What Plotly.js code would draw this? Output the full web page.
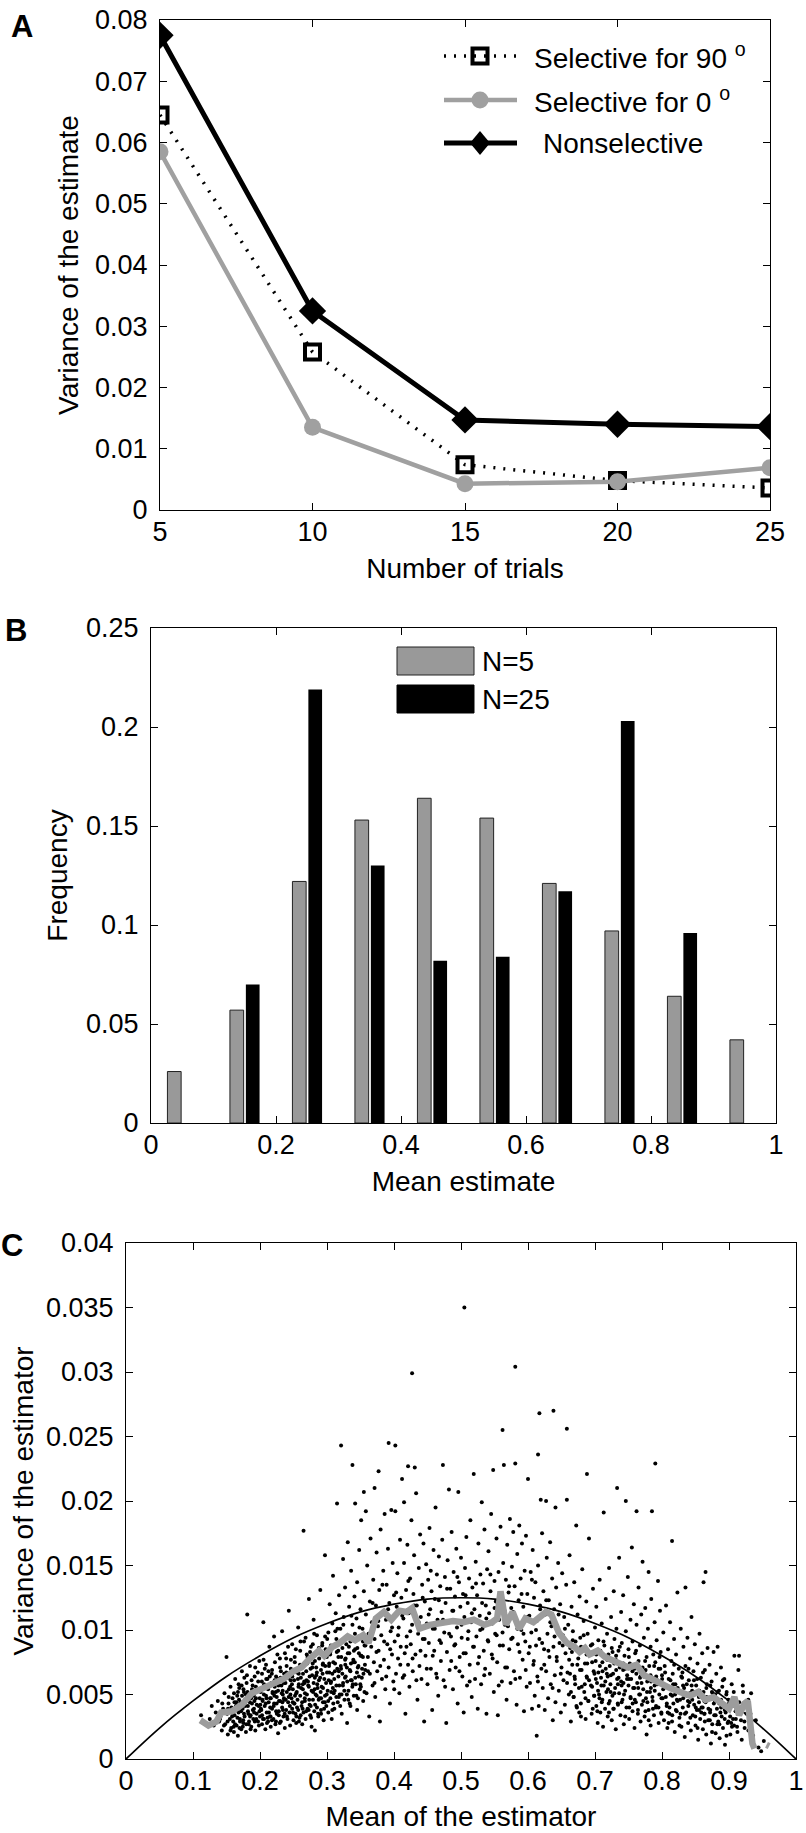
<!DOCTYPE html>
<html><head><meta charset="utf-8">
<script src="https://cdn.plot.ly/plotly-3.0.1.min.js"></script>
<style>html,body{margin:0;padding:0;background:#fff}#chart{width:806px;height:1833px}</style>
</head><body><div id="chart"></div>
<script>
// ---------- Panel A data ----------
const trialsX = [5, 10, 15, 20, 25];
const sel90   = [0.0645, 0.0258, 0.0074, 0.0048, 0.0036];
const sel0    = [0.0585, 0.0135, 0.0043, 0.0046, 0.0069];
const nonsel  = [0.0775, 0.0325, 0.0147, 0.0140, 0.0136];
const legendA = ['Selective for 90 <sup>o</sup>', 'Selective for 0 <sup>o</sup>', 'Nonselective'];

// ---------- Panel B data ----------
const binCenters = [0.05, 0.15, 0.25, 0.35, 0.45, 0.55, 0.65, 0.75, 0.85, 0.95];
const freqN5  = [0.026, 0.057, 0.122, 0.153, 0.164, 0.154, 0.121, 0.097, 0.064, 0.042];
const freqN25 = [0, 0.070, 0.219, 0.130, 0.082, 0.084, 0.117, 0.203, 0.096, 0];
const legendB = ['N=5', 'N=25'];

// ---------- Panel C data ----------
const boundX = [0, 0.05, 0.1, 0.15, 0.2, 0.25, 0.3, 0.35, 0.4, 0.45, 0.5, 0.55, 0.6, 0.65, 0.7, 0.75, 0.8, 0.85, 0.9, 0.95, 1];
const boundY = [0, 0.0024, 0.0045, 0.0064, 0.008, 0.0094, 0.0105, 0.0114, 0.012, 0.0124, 0.0125, 0.0124, 0.012, 0.0114, 0.0105, 0.0094, 0.008, 0.0064, 0.0045, 0.0024, 0];

const meanLineX = [0.111,0.123,0.135,0.142,0.158,0.173,0.188,0.204,0.219,0.235,0.250,0.262,0.273,0.281,0.288,0.296,0.308,0.319,0.331,0.342,0.354,0.362,0.373,0.385,0.396,0.408,0.419,0.427,0.438,0.454,0.469,0.488,0.504,0.519,0.535,0.546,0.554,0.559,0.567,0.577,0.587,0.596,0.608,0.615,0.627,0.635,0.646,0.658,0.669,0.677,0.685,0.692,0.704,0.715,0.727,0.738,0.750,0.762,0.773,0.785,0.796,0.812,0.827,0.842,0.854,0.865,0.877,0.888,0.900,0.908,0.915,0.923,0.928,0.935,0.938,null,0.956,0.960];
const meanLineY = [0.0030,0.0026,0.0029,0.0036,0.0037,0.0042,0.0051,0.0055,0.0059,0.0062,0.0068,0.0071,0.0077,0.0080,0.0084,0.0080,0.0087,0.0090,0.0095,0.0092,0.0096,0.0090,0.0109,0.0114,0.0108,0.0115,0.0114,0.0117,0.0101,0.0104,0.0105,0.0107,0.0106,0.0108,0.0104,0.0106,0.0109,0.0130,0.0104,0.0114,0.0101,0.0109,0.0106,0.0109,0.0114,0.0112,0.0098,0.0090,0.0087,0.0083,0.0086,0.0081,0.0084,0.0079,0.0076,0.0074,0.0071,0.0073,0.0065,0.0062,0.0059,0.0055,0.0052,0.0049,0.0052,0.0046,0.0048,0.0043,0.0039,0.0048,0.0034,0.0043,0.0045,0.0012,0.0008,null,0.0011,0.0010];

const cloudLeft = [
[0.112,0.0034],[0.118,0.0028],[0.125,0.0031],[0.128,0.0041],[0.131,0.0026],[0.134,0.0036],[0.137,0.0045],[0.139,0.0029],[0.141,0.0033],[0.143,0.0022],[0.145,0.0039],[0.147,0.0051],[0.148,0.0027],[0.150,0.0079],[0.151,0.0035],[0.152,0.0019],[0.153,0.0043],[0.155,0.0031],[0.156,0.0056],[0.157,0.0024],[0.158,0.0038],[0.159,0.0047],[0.160,0.0029],[0.161,0.0021],[0.162,0.0034],[0.163,0.0062],[0.164,0.0041],[0.165,0.0026],[0.166,0.0049],[0.167,0.0018],[0.168,0.0036],[0.169,0.0055],[0.170,0.0031],[0.171,0.0044],[0.172,0.0023],[0.173,0.0068],[0.174,0.0039],[0.175,0.0028],[0.176,0.0052],[0.177,0.0033],[0.178,0.0046],[0.179,0.0021],[0.180,0.0059],[0.181,0.0112],[0.182,0.0037],[0.183,0.0027],[0.184,0.0048],[0.185,0.0072],[0.186,0.0034],[0.187,0.0025],[0.188,0.0043],[0.189,0.0057],[0.190,0.0031],[0.191,0.0039],[0.192,0.0064],[0.193,0.0022],[0.194,0.0047],[0.195,0.0035],[0.196,0.0053],[0.197,0.0029],[0.198,0.0041],[0.199,0.0076],[0.200,0.0033],
[0.201,0.0052],[0.202,0.0038],[0.203,0.0027],[0.203,0.0066],[0.204,0.0045],[0.205,0.0106],[0.206,0.0031],[0.206,0.0058],[0.207,0.0041],[0.208,0.0023],[0.209,0.0073],[0.209,0.0049],[0.210,0.0036],[0.211,0.0062],[0.212,0.0029],[0.212,0.0054],[0.213,0.0044],[0.214,0.0087],[0.215,0.0033],[0.215,0.0047],[0.216,0.0025],[0.217,0.0059],[0.218,0.0039],[0.218,0.0069],[0.219,0.0051],[0.220,0.0031],[0.221,0.0095],[0.221,0.0043],[0.222,0.0056],[0.223,0.0027],[0.224,0.0064],[0.224,0.0037],[0.225,0.0048],[0.226,0.0081],[0.227,0.0020],[0.227,0.0053],[0.228,0.0034],[0.229,0.0061],[0.230,0.0045],[0.230,0.0071],[0.231,0.0029],[0.232,0.0057],[0.233,0.0040],[0.233,0.0099],[0.234,0.0050],[0.235,0.0033],[0.236,0.0066],[0.236,0.0046],[0.237,0.0024],[0.238,0.0059],[0.239,0.0038],[0.239,0.0078],[0.240,0.0052],[0.241,0.0031],[0.242,0.0063],[0.242,0.0044],[0.243,0.0115],[0.244,0.0036],[0.245,0.0056],[0.245,0.0026],[0.246,0.0070],[0.247,0.0047],[0.248,0.0039],[0.248,0.0089],[0.249,0.0054],[0.250,0.0030],[0.251,0.0061],[0.251,0.0043],[0.252,0.0075],[0.253,0.0035],[0.254,0.0051],[0.254,0.0028],[0.255,0.0067],[0.256,0.0046],[0.257,0.0102],[0.257,0.0038],[0.258,0.0058],[0.259,0.0032],[0.260,0.0084],[0.260,0.0049],[0.261,0.0063],[0.262,0.0041],[0.263,0.0027],[0.263,0.0072],[0.264,0.0054],[0.265,0.0177],[0.265,0.0036],[0.266,0.0060],[0.267,0.0045],[0.268,0.0094],[0.268,0.0031],[0.269,0.0068],[0.270,0.0050],[0.271,0.0039],[0.271,0.0079],[0.272,0.0057],[0.273,0.0124],[0.274,0.0042],[0.274,0.0064],[0.275,0.0034],[0.276,0.0087],[0.277,0.0053],[0.277,0.0025],[0.278,0.0071],[0.279,0.0046],[0.280,0.0108],[0.280,0.0059],[0.281,0.0037],[0.282,0.0022],[0.282,0.0076],[0.283,0.0050],[0.284,0.0065],[0.285,0.0040],[0.285,0.0096],[0.286,0.0055],[0.287,0.0033],[0.288,0.0082],[0.288,0.0061],[0.289,0.0047],[0.290,0.0131],[0.291,0.0069],[0.291,0.0038],[0.292,0.0056],[0.293,0.0090],[0.294,0.0044],[0.294,0.0074],[0.295,0.0030],[0.296,0.0062],[0.297,0.0158],[0.297,0.0049],[0.298,0.0085],[0.299,0.0041],[0.300,0.0067]
];

const cloudMidLeft = [
[0.301,0.0053],[0.302,0.0098],[0.302,0.0036],[0.303,0.0072],[0.304,0.0120],[0.305,0.0047],[0.305,0.0083],[0.306,0.0060],[0.307,0.0031],[0.308,0.0105],[0.308,0.0066],[0.309,0.0142],[0.310,0.0051],[0.311,0.0088],[0.311,0.0039],[0.312,0.0074],[0.313,0.0113],[0.314,0.0057],[0.314,0.0093],[0.315,0.0198],[0.316,0.0044],[0.317,0.0079],[0.317,0.0064],[0.318,0.0127],[0.319,0.0050],[0.320,0.0101],[0.321,0.0243],[0.321,0.0070],[0.322,0.0035],[0.323,0.0086],[0.324,0.0155],[0.324,0.0059],[0.325,0.0110],[0.326,0.0046],[0.327,0.0077],[0.327,0.0133],[0.328,0.0064],[0.329,0.0095],[0.330,0.0028],[0.331,0.0168],[0.331,0.0082],[0.332,0.0053],[0.333,0.0118],[0.334,0.0069],[0.335,0.0041],[0.335,0.0091],[0.336,0.0146],[0.337,0.0061],[0.338,0.0228],[0.338,0.0104],[0.339,0.0075],[0.340,0.0049],[0.341,0.0126],[0.342,0.0198],[0.342,0.0085],[0.343,0.0058],[0.344,0.0109],[0.345,0.0038],[0.345,0.0137],[0.346,0.0071],[0.347,0.0095],[0.348,0.0162],[0.349,0.0054],[0.350,0.0116],[0.350,0.0080],[0.351,0.0185],[0.352,0.0063],[0.353,0.0101],[0.354,0.0045],[0.355,0.0207],[0.355,0.0130],[0.356,0.0088],[0.357,0.0069],[0.358,0.0192],[0.358,0.0112],[0.359,0.0051],[0.360,0.0150],[0.361,0.0079],[0.362,0.0097],[0.363,0.0033],[0.364,0.0122],[0.364,0.0066],[0.365,0.0171],[0.366,0.0087],[0.367,0.0106],[0.368,0.0057],[0.369,0.0139],[0.370,0.0075],[0.371,0.0210],[0.371,0.0093],[0.372,0.0048],[0.373,0.0119],[0.374,0.0160],[0.375,0.0068],[0.376,0.0103],[0.377,0.0223],[0.377,0.0084],[0.378,0.0131],[0.379,0.0029],[0.380,0.0178],[0.381,0.0096],[0.382,0.0062],[0.383,0.0113],[0.384,0.0146],[0.385,0.0077],[0.386,0.0190],[0.387,0.0054],[0.388,0.0108],[0.389,0.0135],[0.390,0.0089],[0.391,0.0163],[0.392,0.0245],[0.392,0.0071],[0.393,0.0121],[0.394,0.0043],[0.395,0.0099],[0.396,0.0193],[0.397,0.0081],[0.398,0.0152],[0.399,0.0060],[0.400,0.0127],
[0.401,0.0091],[0.402,0.0243],[0.402,0.0192],[0.403,0.0066],[0.404,0.0118],[0.405,0.0144],[0.406,0.0078],[0.407,0.0102],[0.408,0.0051],[0.409,0.0170],[0.410,0.0087],[0.411,0.0125],[0.412,0.0217],[0.413,0.0063],[0.414,0.0109],[0.415,0.0199],[0.415,0.0152],[0.416,0.0082],[0.417,0.0035],[0.418,0.0131],[0.419,0.0095],[0.420,0.0166],[0.421,0.0227],[0.421,0.0073],[0.422,0.0113],[0.423,0.0056],[0.424,0.0140],[0.425,0.0089],[0.426,0.0185],[0.427,0.0299],[0.427,0.0104],[0.428,0.0068],[0.429,0.0128],[0.430,0.0158],[0.431,0.0226],[0.432,0.0081],[0.433,0.0206],[0.434,0.0119],[0.435,0.0046],[0.436,0.0097],[0.437,0.0148],[0.438,0.0072],[0.439,0.0174],[0.440,0.0110],[0.441,0.0062],[0.442,0.0135],[0.443,0.0093],[0.444,0.0167],[0.445,0.0029],[0.446,0.0122],[0.447,0.0080],[0.448,0.0151],[0.449,0.0105],[0.450,0.0058],[0.451,0.0139],[0.452,0.0090],[0.453,0.0179],[0.454,0.0116],[0.455,0.0070],[0.456,0.0130],[0.457,0.0038],[0.458,0.0101],[0.459,0.0162],[0.460,0.0084],[0.461,0.0124],[0.462,0.0195],[0.463,0.0066],[0.464,0.0143],[0.465,0.0108],[0.466,0.0049],[0.467,0.0157],[0.468,0.0092],[0.469,0.0134],[0.470,0.0076],[0.471,0.0114],[0.472,0.0170],[0.473,0.0228],[0.474,0.0061],[0.475,0.0098],[0.476,0.0141],[0.477,0.0121],[0.478,0.0028],[0.479,0.0083],[0.480,0.0154],[0.481,0.0107],[0.482,0.0209],[0.483,0.0069],[0.484,0.0132],[0.485,0.0095],[0.486,0.0176],[0.487,0.0115],[0.488,0.0054],[0.489,0.0145],[0.490,0.0088],[0.491,0.0126],[0.492,0.0071],[0.493,0.0163],[0.494,0.0102],[0.495,0.0043],[0.496,0.0207],[0.497,0.0137],[0.498,0.0079],[0.499,0.0118],[0.500,0.0156]
];

const cloudMidRight = [
[0.501,0.0094],[0.502,0.0064],[0.503,0.0128],[0.504,0.0036],[0.505,0.0350],[0.505,0.0110],[0.506,0.0148],[0.507,0.0082],[0.508,0.0172],[0.509,0.0057],[0.510,0.0121],[0.511,0.0099],[0.512,0.0140],[0.513,0.0073],[0.514,0.0185],[0.515,0.0106],[0.516,0.0048],[0.517,0.0133],[0.518,0.0087],[0.519,0.0221],[0.520,0.0116],[0.521,0.0062],[0.522,0.0153],[0.523,0.0095],[0.524,0.0127],[0.525,0.0039],[0.526,0.0167],[0.527,0.0079],[0.528,0.0111],[0.529,0.0143],[0.530,0.0058],[0.531,0.0199],[0.532,0.0101],[0.533,0.0136],[0.534,0.0084],[0.535,0.0178],[0.536,0.0070],[0.537,0.0119],[0.538,0.0035],[0.539,0.0147],[0.540,0.0092],[0.541,0.0161],[0.542,0.0113],[0.543,0.0066],[0.544,0.0130],[0.545,0.0190],[0.546,0.0081],[0.547,0.0105],[0.548,0.0224],[0.549,0.0052],[0.550,0.0138],[0.551,0.0097],[0.552,0.0122],[0.553,0.0171],[0.554,0.0075],[0.555,0.0034],[0.556,0.0145],[0.557,0.0108],[0.558,0.0088],[0.559,0.0180],[0.560,0.0126],[0.561,0.0060],[0.562,0.0255],[0.562,0.0098],[0.563,0.0152],[0.564,0.0228],[0.565,0.0115],[0.566,0.0071],[0.567,0.0139],[0.568,0.0046],[0.569,0.0166],[0.570,0.0103],[0.571,0.0129],[0.572,0.0085],[0.573,0.0186],[0.574,0.0059],[0.575,0.0117],[0.576,0.0149],[0.577,0.0094],[0.578,0.0176],[0.579,0.0068],[0.580,0.0134],[0.581,0.0304],[0.581,0.0229],[0.582,0.0107],[0.583,0.0042],[0.584,0.0159],[0.585,0.0089],[0.586,0.0123],[0.587,0.0181],[0.588,0.0063],[0.589,0.0140],[0.590,0.0100],[0.591,0.0167],[0.592,0.0077],[0.593,0.0118],[0.594,0.0037],[0.595,0.0146],[0.596,0.0091],[0.597,0.0173],[0.598,0.0056],[0.599,0.0128],[0.600,0.0217],
[0.601,0.0082],[0.602,0.0111],[0.603,0.0059],[0.604,0.0145],[0.605,0.0098],[0.606,0.0039],[0.607,0.0162],[0.608,0.0073],[0.609,0.0125],[0.610,0.0049],[0.611,0.0137],[0.612,0.0088],[0.613,0.0018],[0.613,0.0107],[0.614,0.0064],[0.615,0.0236],[0.615,0.0150],[0.616,0.0041],[0.617,0.0268],[0.617,0.0093],[0.618,0.0119],[0.619,0.0201],[0.620,0.0070],[0.621,0.0175],[0.622,0.0055],[0.623,0.0130],[0.624,0.0085],[0.625,0.0038],[0.626,0.0112],[0.627,0.0200],[0.627,0.0068],[0.628,0.0156],[0.629,0.0097],[0.630,0.0047],[0.631,0.0123],[0.632,0.0079],[0.633,0.0168],[0.634,0.0058],[0.635,0.0103],[0.636,0.0140],[0.637,0.0030],[0.638,0.0270],[0.638,0.0087],[0.639,0.0116],[0.640,0.0065],[0.641,0.0195],[0.641,0.0044],[0.642,0.0133],[0.643,0.0076],[0.644,0.0101],[0.645,0.0152],[0.646,0.0053],[0.647,0.0090],[0.648,0.0120],[0.649,0.0036],[0.650,0.0071],[0.651,0.0144],[0.652,0.0096],[0.653,0.0061],[0.654,0.0110],[0.655,0.0042],[0.656,0.0082],[0.657,0.0135],[0.658,0.0256],[0.658,0.0201],[0.659,0.0067],[0.660,0.0104],[0.661,0.0050],[0.662,0.0158],[0.663,0.0086],[0.664,0.0029],[0.665,0.0118],[0.666,0.0073],[0.667,0.0099],[0.668,0.0048],[0.669,0.0137],[0.670,0.0062],[0.671,0.0091],[0.672,0.0181],[0.673,0.0040],[0.674,0.0112],[0.675,0.0078],[0.676,0.0055],[0.677,0.0126],[0.678,0.0094],[0.679,0.0033],[0.680,0.0069],[0.681,0.0147],[0.682,0.0085],[0.683,0.0107],[0.684,0.0052],[0.685,0.0074],[0.686,0.0031],[0.687,0.0122],[0.688,0.0221],[0.688,0.0063],[0.689,0.0097],[0.690,0.0045],[0.691,0.0171],[0.692,0.0081],[0.693,0.0110],[0.694,0.0057],[0.695,0.0035],[0.696,0.0089],[0.697,0.0132],[0.698,0.0068],[0.699,0.0049],[0.700,0.0102]
];

const cloudRight = [
[0.701,0.0076],[0.702,0.0041],[0.702,0.0118],[0.703,0.0059],[0.704,0.0028],[0.705,0.0092],[0.705,0.0067],[0.706,0.0050],[0.707,0.0139],[0.708,0.0084],[0.708,0.0036],[0.709,0.0063],[0.710,0.0105],[0.711,0.0046],[0.711,0.0075],[0.712,0.0025],[0.713,0.0191],[0.713,0.0057],[0.714,0.0088],[0.715,0.0039],[0.716,0.0070],[0.716,0.0124],[0.717,0.0052],[0.718,0.0097],[0.719,0.0033],[0.719,0.0064],[0.720,0.0081],[0.721,0.0148],[0.722,0.0045],[0.722,0.0072],[0.723,0.0058],[0.724,0.0110],[0.725,0.0030],[0.725,0.0086],[0.726,0.0049],[0.727,0.0066],[0.728,0.0130],[0.728,0.0039],[0.729,0.0093],[0.730,0.0055],[0.731,0.0077],[0.731,0.0023],[0.732,0.0101],[0.733,0.0210],[0.733,0.0062],[0.734,0.0043],[0.735,0.0084],[0.736,0.0156],[0.736,0.0051],[0.737,0.0071],[0.738,0.0034],[0.739,0.0114],[0.739,0.0060],[0.740,0.0090],[0.741,0.0046],[0.742,0.0069],[0.742,0.0127],[0.743,0.0027],[0.744,0.0080],[0.745,0.0053],[0.746,0.0200],[0.746,0.0099],[0.747,0.0040],[0.748,0.0065],[0.749,0.0141],[0.750,0.0057],[0.750,0.0085],[0.751,0.0031],[0.752,0.0074],[0.753,0.0108],[0.753,0.0048],[0.754,0.0062],[0.755,0.0164],[0.756,0.0037],[0.756,0.0091],[0.757,0.0055],[0.758,0.0120],[0.759,0.0070],[0.759,0.0024],[0.760,0.0082],[0.761,0.0044],[0.762,0.0192],[0.762,0.0104],[0.763,0.0059],[0.764,0.0035],[0.765,0.0076],[0.765,0.0133],[0.766,0.0050],[0.767,0.0088],[0.768,0.0029],[0.768,0.0064],[0.769,0.0112],[0.770,0.0042],[0.771,0.0071],[0.771,0.0153],[0.772,0.0054],[0.773,0.0094],[0.774,0.0033],[0.774,0.0068],[0.775,0.0117],[0.776,0.0047],[0.777,0.0079],[0.777,0.0019],[0.778,0.0060],[0.779,0.0101],[0.780,0.0038],[0.780,0.0145],[0.781,0.0072],[0.782,0.0052],[0.783,0.0087],[0.783,0.0026],[0.784,0.0124],[0.785,0.0192],[0.785,0.0063],[0.786,0.0045],[0.787,0.0081],[0.788,0.0034],[0.789,0.0106],[0.789,0.0057],[0.790,0.0229],[0.790,0.0075],[0.791,0.0040],[0.792,0.0092],[0.793,0.0061],[0.794,0.0138],[0.795,0.0028],[0.795,0.0070],[0.796,0.0050],[0.797,0.0115],[0.798,0.0083],[0.799,0.0036],[0.800,0.0065],
[0.801,0.0047],[0.802,0.0098],[0.803,0.0030],[0.804,0.0072],[0.805,0.0056],[0.806,0.0119],[0.807,0.0041],[0.808,0.0024],[0.809,0.0085],[0.810,0.0062],[0.811,0.0035],[0.812,0.0106],[0.813,0.0050],[0.814,0.0076],[0.815,0.0169],[0.815,0.0029],[0.816,0.0066],[0.817,0.0043],[0.818,0.0093],[0.819,0.0021],[0.820,0.0058],[0.821,0.0081],[0.822,0.0037],[0.823,0.0129],[0.824,0.0052],[0.825,0.0070],[0.826,0.0032],[0.827,0.0046],[0.828,0.0101],[0.829,0.0025],[0.830,0.0063],[0.831,0.0040],[0.832,0.0087],[0.833,0.0055],[0.834,0.0017],[0.835,0.0133],[0.835,0.0072],[0.836,0.0036],[0.837,0.0049],[0.838,0.0094],[0.839,0.0028],[0.840,0.0061],[0.841,0.0044],[0.842,0.0078],[0.843,0.0022],[0.844,0.0110],[0.845,0.0053],[0.846,0.0034],[0.847,0.0068],[0.848,0.0042],[0.849,0.0089],[0.850,0.0026],[0.851,0.0057],[0.852,0.0038],[0.853,0.0074],[0.854,0.0015],[0.855,0.0048],[0.856,0.0097],[0.857,0.0031],[0.858,0.0063],[0.859,0.0040],[0.860,0.0082],[0.861,0.0023],[0.862,0.0137],[0.862,0.0052],[0.863,0.0035],[0.864,0.0069],[0.865,0.0145],[0.865,0.0044],[0.866,0.0019],[0.867,0.0058],[0.868,0.0086],[0.869,0.0030],[0.870,0.0047],[0.871,0.0073],[0.872,0.0038],[0.873,0.0012],[0.874,0.0060],[0.875,0.0027],[0.876,0.0051],[0.877,0.0083],[0.878,0.0034],[0.879,0.0045],[0.880,0.0020],[0.881,0.0066],[0.882,0.0039],[0.883,0.0087],[0.884,0.0029],[0.885,0.0053],[0.886,0.0016],[0.887,0.0044],[0.888,0.0071],[0.889,0.0033],[0.890,0.0056],[0.891,0.0024],[0.892,0.0041],[0.893,0.0062],[0.894,0.0011],[0.895,0.0036],[0.896,0.0050],[0.898,0.0028],[0.900,0.0043],[0.902,0.0019],[0.904,0.0058],[0.906,0.0031],[0.908,0.0080],[0.910,0.0046],[0.912,0.0025],[0.914,0.0069],[0.915,0.0080],[0.917,0.0038],[0.919,0.0015],[0.921,0.0052],[0.923,0.0029],[0.926,0.0042],[0.929,0.0022],[0.932,0.0035],[0.933,0.0051],[0.936,0.0018],[0.940,0.0030],[0.944,0.0009],[0.948,0.0006],[0.952,0.0014]
];

const cloudDenseLeft = [
[0.1404,0.0031],[0.1437,0.0043],[0.1462,0.0026],[0.1488,0.0037],[0.1516,0.0029],[0.1533,0.0048],[0.1559,0.0022],[0.1574,0.0040],[0.1597,0.0034],[0.1612,0.0051],[0.1628,0.0027],[0.1646,0.0044],[0.1663,0.0032],[0.1681,0.0058],[0.1694,0.0024],[0.1717,0.0037],[0.1732,0.0049],[0.1749,0.0030],[0.1766,0.0063],[0.1778,0.0041],[0.1795,0.0027],[0.1813,0.0052],[0.1826,0.0035],[0.1847,0.0044],[0.1859,0.0023],[0.1874,0.0061],[0.1893,0.0038],[0.1907,0.0049],[0.1922,0.0029],[0.1938,0.0056],[0.1951,0.0042],[0.1967,0.0067],[0.1984,0.0026],[0.1996,0.0047],[0.2013,0.0039],[0.2027,0.0060],[0.2044,0.0031],[0.2058,0.0050],[0.2071,0.0070],[0.2086,0.0043],[0.2104,0.0028],[0.2117,0.0055],[0.2133,0.0036],[0.2146,0.0064],[0.2161,0.0047],[0.2178,0.0030],[0.2192,0.0058],[0.2205,0.0041],[0.2223,0.0075],[0.2236,0.0052],[0.2251,0.0035],[0.2267,0.0062],[0.2283,0.0045],[0.2296,0.0028],[0.2312,0.0068],[0.2325,0.0051],[0.2342,0.0038],[0.2357,0.0059],[0.2372,0.0082],[0.2384,0.0046],[0.2401,0.0033],[0.2415,0.0065],[0.2432,0.0054],[0.2446,0.0041],[0.2461,0.0077],[0.2477,0.0058],[0.2493,0.0036],[0.2506,0.0069],[0.2522,0.0049],[0.2535,0.0085],[0.2553,0.0040],[0.2566,0.0062],[0.2581,0.0029],[0.2597,0.0073],[0.2613,0.0055],[0.2628,0.0044],[0.2642,0.0066],[0.2657,0.0091],[0.2671,0.0051],[0.2688,0.0037],[0.2703,0.0074],[0.2716,0.0060],[0.2734,0.0046],[0.2747,0.0083],[0.2763,0.0032],[0.2778,0.0065],[0.2792,0.0052],[0.2808,0.0097],[0.2823,0.0042],[0.2839,0.0071],[0.2854,0.0058],[0.2867,0.0035],[0.2883,0.0078],[0.2897,0.0063],[0.2912,0.0047],[0.2928,0.0088],[0.2941,0.0055],[0.2957,0.0039],[0.2973,0.0072],[0.2986,0.0059],[0.3003,0.0093],[0.3018,0.0045],[0.3034,0.0067],[0.3047,0.0081],[0.3063,0.0052],[0.3079,0.0038],[0.3094,0.0075],[0.3108,0.0062],[0.3124,0.0099],[0.3139,0.0048],[0.3153,0.0070],[0.3168,0.0084],[0.3184,0.0057],[0.3197,0.0041],[0.3213,0.0079],[0.3229,0.0066],[0.3244,0.0104],[0.3258,0.0053],[0.3273,0.0073],[0.3289,0.0089],[0.3302,0.0060],[0.3318,0.0046],[0.3333,0.0082],[0.3349,0.0068],[0.3364,0.0111],[0.3378,0.0056],[0.3393,0.0077],[0.3409,0.0093],[0.3422,0.0063],[0.3438,0.0049],[0.3453,0.0086],[0.3469,0.0072],[0.3484,0.0102],[0.3497,0.0058],[0.3513,0.0080],[0.3528,0.0095],[0.3544,0.0066],[0.3559,0.0052],[0.3573,0.0088],
[0.1522,0.0039],[0.1608,0.0025],[0.1687,0.0046],[0.1753,0.0054],[0.1836,0.0029],[0.1912,0.0036],[0.1978,0.0053],[0.2036,0.0046],[0.2093,0.0062],[0.2152,0.0040],[0.2214,0.0049],[0.2276,0.0057],[0.2334,0.0044],[0.2393,0.0067],[0.2454,0.0050],[0.2514,0.0043],[0.2574,0.0056],[0.2636,0.0039],[0.2694,0.0061],[0.2754,0.0070],[0.2815,0.0054],[0.2876,0.0046],[0.2934,0.0066],[0.2995,0.0050],[0.3056,0.0059],[0.3115,0.0053],[0.3176,0.0068],[0.3237,0.0057],[0.3296,0.0071],[0.3356,0.0061],[0.3415,0.0075],[0.3476,0.0064],[0.3536,0.0079],
[0.1583,0.0033],[0.1619,0.0044],[0.1654,0.0038],[0.1702,0.0029],[0.1726,0.0057],[0.1761,0.0035],[0.1788,0.0050],[0.1819,0.0041],[0.1852,0.0033],[0.1881,0.0054],[0.1917,0.0045],[0.1944,0.0031],[0.1973,0.0060],[0.2005,0.0042],[0.2031,0.0034],[0.2064,0.0055],[0.2097,0.0047],[0.2126,0.0068],[0.2158,0.0033],[0.2187,0.0052],[0.2219,0.0061],[0.2248,0.0043],[0.2281,0.0037],[0.2307,0.0063],[0.2339,0.0053],[0.2368,0.0035],[0.2397,0.0072],[0.2428,0.0048],[0.2458,0.0061],[0.2489,0.0044],[0.2518,0.0079],[0.2549,0.0052],[0.2578,0.0066],[0.2607,0.0034],[0.2639,0.0058],[0.2668,0.0047],[0.2698,0.0081],[0.2729,0.0056],[0.2757,0.0041],[0.2787,0.0074],[0.2818,0.0063],[0.2846,0.0049],[0.2878,0.0086],[0.2905,0.0052],[0.2936,0.0073],[0.2968,0.0044],[0.2997,0.0079],[0.3026,0.0061],[0.3058,0.0088],[0.3087,0.0055],[0.3117,0.0068],[0.3146,0.0083],[0.3177,0.0048],[0.3206,0.0072],[0.3237,0.0092],[0.3268,0.0063],[0.3296,0.0050],[0.3327,0.0087],[0.3357,0.0074],[0.3386,0.0058],[0.3417,0.0097],[0.3447,0.0067],[0.3476,0.0082],[0.3506,0.0056],[0.3537,0.0091],[0.3566,0.0073],
[0.1671,0.0052],[0.1743,0.0025],[0.1805,0.0065],[0.1867,0.0047],[0.1929,0.0071],[0.1992,0.0037],[0.2053,0.0077],[0.2114,0.0032],[0.2176,0.0066],[0.2238,0.0029],[0.2297,0.0078],[0.2358,0.0047],[0.2419,0.0087],[0.2482,0.0064],[0.2543,0.0033],[0.2604,0.0091],[0.2665,0.0059],[0.2726,0.0038],[0.2788,0.0089],[0.2849,0.0067],[0.2911,0.0035],[0.2972,0.0095],[0.3033,0.0074],[0.3094,0.0043],[0.3156,0.0101],[0.3217,0.0050],[0.3278,0.0078],[0.3339,0.0043],[0.3401,0.0084],[0.3462,0.0047],[0.3523,0.0070]
];

const cloudDenseMid = [
[0.3612,0.0068],[0.3647,0.0094],[0.3681,0.0121],[0.3709,0.0059],[0.3738,0.0083],[0.3766,0.0107],[0.3795,0.0072],[0.3827,0.0135],[0.3853,0.0091],[0.3884,0.0064],[0.3912,0.0116],[0.3943,0.0085],[0.3971,0.0102],[0.4003,0.0054],[0.4032,0.0129],[0.4061,0.0096],[0.4094,0.0073],[0.4123,0.0111],[0.4152,0.0065],[0.4186,0.0087],[0.4214,0.0138],[0.4243,0.0099],[0.4277,0.0078],[0.4305,0.0119],[0.4334,0.0061],[0.4368,0.0106],[0.4396,0.0084],[0.4428,0.0125],[0.4457,0.0093],[0.4489,0.0070],[0.4518,0.0112],[0.4549,0.0146],[0.4578,0.0080],[0.4609,0.0101],[0.4641,0.0063],[0.4669,0.0123],[0.4702,0.0090],[0.4731,0.0108],[0.4763,0.0056],[0.4792,0.0132],[0.4823,0.0097],[0.4854,0.0076],[0.4885,0.0115],[0.4914,0.0089],[0.4946,0.0141],[0.4977,0.0068],[0.5008,0.0104],[0.5039,0.0082],[0.5068,0.0127],[0.5101,0.0093],[0.5129,0.0060],[0.5162,0.0113],[0.5193,0.0087],[0.5224,0.0136],[0.5253,0.0074],[0.5286,0.0100],[0.5315,0.0121],[0.5347,0.0065],[0.5378,0.0109],[0.5407,0.0091],[0.5439,0.0143],[0.5472,0.0078],[0.5501,0.0117],[0.5532,0.0096],[0.5563,0.0057],[0.5594,0.0125],[0.5626,0.0088],[0.5655,0.0104],[0.5687,0.0071],[0.5718,0.0134],[0.5749,0.0093],[0.5778,0.0114],[0.5811,0.0062],[0.5842,0.0101],[0.5873,0.0083],[0.5904,0.0128],[0.5933,0.0097],[0.5966,0.0069],[0.5995,0.0110],[0.6027,0.0087],[0.6058,0.0139],[0.6087,0.0076],[0.6119,0.0100],[0.6148,0.0060],[0.6182,0.0116],[0.6211,0.0090],[0.6243,0.0073],[0.6272,0.0123],[0.6304,0.0084],[0.6333,0.0106],[0.6367,0.0055],[0.6396,0.0095],[0.6428,0.0079],[0.6457,0.0112],[0.6489,0.0066],[0.6518,0.0088],[0.6551,0.0101],[0.6583,0.0059]
];

const cloudDenseRight = [
[0.6614,0.0077],[0.6641,0.0052],[0.6668,0.0092],[0.6695,0.0064],[0.6723,0.0041],[0.6749,0.0085],[0.6776,0.0069],[0.6802,0.0056],[0.6831,0.0096],[0.6858,0.0047],[0.6884,0.0074],[0.6911,0.0061],[0.6938,0.0088],[0.6966,0.0039],[0.6992,0.0066],[0.7019,0.0081],[0.7046,0.0053],[0.7073,0.0072],[0.7101,0.0044],[0.7127,0.0091],[0.7154,0.0060],[0.7181,0.0077],[0.7208,0.0036],[0.7236,0.0065],[0.7262,0.0083],[0.7289,0.0051],[0.7316,0.0069],[0.7343,0.0042],[0.7371,0.0087],[0.7397,0.0057],[0.7424,0.0074],[0.7451,0.0033],[0.7478,0.0062],[0.7506,0.0079],[0.7532,0.0047],[0.7559,0.0068],[0.7586,0.0055],[0.7613,0.0084],[0.7641,0.0038],[0.7667,0.0071],[0.7694,0.0059],[0.7721,0.0045],[0.7748,0.0076],[0.7776,0.0052],[0.7802,0.0030],[0.7829,0.0065],[0.7856,0.0048],[0.7883,0.0072],[0.7911,0.0041],[0.7937,0.0058],[0.7964,0.0079],[0.7991,0.0035],[0.8018,0.0054],[0.8046,0.0067],[0.8072,0.0043],[0.8099,0.0028],[0.8126,0.0061],[0.8153,0.0049],[0.8181,0.0073],[0.8207,0.0038],[0.8234,0.0055],[0.8261,0.0026],[0.8288,0.0064],[0.8316,0.0047],[0.8342,0.0035],[0.8369,0.0058],[0.8396,0.0070],[0.8423,0.0032],[0.8451,0.0046],[0.8477,0.0061],[0.8504,0.0040],[0.8531,0.0024],[0.8558,0.0053],[0.8586,0.0036],[0.8612,0.0067],[0.8639,0.0029],[0.8666,0.0048],[0.8693,0.0039],[0.8721,0.0057],[0.8747,0.0021],[0.8774,0.0043],[0.8801,0.0034],[0.8828,0.0052],[0.8856,0.0027],[0.8882,0.0040],[0.8909,0.0061],[0.8936,0.0031],[0.8963,0.0018],[0.8991,0.0046],[0.9017,0.0033],[0.9044,0.0025],[0.9071,0.0052],[0.9098,0.0037],[0.9126,0.0021],[0.9152,0.0044],[0.9179,0.0030],[0.9206,0.0057],[0.9233,0.0024],[0.9261,0.0035],[0.9288,0.0046],
[0.6703,0.0058],[0.6789,0.0043],[0.6874,0.0081],[0.6957,0.0056],[0.7035,0.0037],[0.7112,0.0068],[0.7194,0.0054],[0.7273,0.0039],[0.7352,0.0063],[0.7433,0.0050],[0.7512,0.0040],[0.7594,0.0046],[0.7672,0.0063],[0.7753,0.0037],[0.7834,0.0055],[0.7913,0.0064],[0.7992,0.0047],[0.8074,0.0056],[0.8153,0.0034],[0.8232,0.0045],[0.8314,0.0057],[0.8393,0.0041],[0.8474,0.0052],[0.8553,0.0038],[0.8632,0.0045],[0.8714,0.0030],[0.8793,0.0050],[0.8872,0.0036],[0.8954,0.0042],[0.9033,0.0028],
[0.6627,0.0066],[0.6682,0.0048],[0.6737,0.0073],[0.6792,0.0087],[0.6847,0.0058],[0.6902,0.0045],[0.6957,0.0075],[0.7012,0.0062],[0.7067,0.0047],[0.7122,0.0080],[0.7177,0.0066],[0.7232,0.0052],[0.7287,0.0074],[0.7342,0.0058],[0.7397,0.0044],[0.7452,0.0070],[0.7507,0.0062],[0.7562,0.0043],[0.7617,0.0066],[0.7672,0.0050],[0.7727,0.0064],[0.7782,0.0044],[0.7837,0.0060],[0.7892,0.0053],[0.7947,0.0040],[0.8002,0.0062],[0.8057,0.0048],[0.8112,0.0040],[0.8167,0.0058],[0.8222,0.0046],[0.8277,0.0035],[0.8332,0.0051],[0.8387,0.0045],[0.8442,0.0057],[0.8497,0.0033],[0.8552,0.0044],[0.8607,0.0040],[0.8662,0.0055],[0.8717,0.0036],[0.8772,0.0049],[0.8827,0.0027],[0.8882,0.0046],[0.8937,0.0038],[0.8992,0.0029],[0.9047,0.0041],[0.9102,0.0031],[0.9157,0.0036],
[0.6655,0.0083],[0.6765,0.0036],[0.6875,0.0064],[0.6985,0.0049],[0.7095,0.0057],[0.7205,0.0043],[0.7315,0.0080],[0.7425,0.0059],[0.7535,0.0072],[0.7645,0.0055],[0.7755,0.0069],[0.7865,0.0039],[0.7975,0.0070],[0.8085,0.0036],[0.8195,0.0050],[0.8305,0.0067],[0.8415,0.0051],[0.8525,0.0062],[0.8635,0.0035],[0.8745,0.0052],[0.8855,0.0043],[0.8965,0.0052],[0.9075,0.0026]
];

// ---------- layout helpers ----------
const W = 806, H = 1833;
const fx = p => p / W;
const fy = p => 1 - p / H;
const FONT = 'Liberation Sans, Arial, Helvetica, sans-serif';
const TICK = 27, TITLE = 28;

function axis(extra) {
  return Object.assign({
    showline: true, mirror: 'allticks', linecolor: 'black', linewidth: 1,
    ticks: 'inside', ticklen: 7, tickwidth: 1, tickcolor: 'black',
    showgrid: false, zeroline: false, fixedrange: true,
    tickfont: {family: FONT, size: TICK, color: 'black'}
  }, extra);
}

const cloud = cloudLeft.concat(cloudMidLeft, cloudMidRight, cloudRight,
                               cloudDenseLeft, cloudDenseMid, cloudDenseRight);

const traces = [
  {x: trialsX, y: sel90, xaxis: 'x', yaxis: 'y', type: 'scatter', mode: 'lines+markers',
   name: legendA[0], showlegend: false,
   line: {color: 'black', width: 3.5, dash: '2px,8px'},
   marker: {symbol: 'square-open', size: 15, color: 'black', line: {width: 4, color: 'black'}}},
  {x: trialsX, y: sel0, xaxis: 'x', yaxis: 'y', type: 'scatter', mode: 'lines+markers',
   name: legendA[1], showlegend: false,
   line: {color: '#a0a0a0', width: 4.5},
   marker: {symbol: 'circle', size: 17, color: '#a0a0a0'}},
  {x: trialsX, y: nonsel, xaxis: 'x', yaxis: 'y', type: 'scatter', mode: 'lines+markers',
   name: legendA[2], showlegend: false,
   line: {color: 'black', width: 5},
   marker: {symbol: 'diamond', size: 21, color: 'black'}},

  {x: binCenters, y: freqN5, xaxis: 'x2', yaxis: 'y2', type: 'bar', name: legendB[0],
   showlegend: false, marker: {color: '#999999', line: {color: '#222', width: 1}}},
  {x: binCenters, y: freqN25, xaxis: 'x2', yaxis: 'y2', type: 'bar', name: legendB[1],
   showlegend: false, marker: {color: 'black', line: {color: 'black', width: 0}}},

  {x: cloud.map(p => p[0]), y: cloud.map(p => p[1]), xaxis: 'x3', yaxis: 'y3',
   type: 'scatter', mode: 'markers', showlegend: false, name: 'estimates',
   marker: {color: 'black', size: 4, line: {width: 0}}},
  {x: boundX, y: boundY, xaxis: 'x3', yaxis: 'y3', type: 'scatter', mode: 'lines',
   showlegend: false, name: 'bound', line: {color: 'black', width: 1.7, shape: 'spline'}},
  {x: meanLineX, y: meanLineY, xaxis: 'x3', yaxis: 'y3', type: 'scatter', mode: 'lines',
   showlegend: false, name: 'running mean', connectgaps: false,
   line: {color: '#9c9c9c', width: 6.5, shape: 'linear'}}
];

// legend keys (drawn in paper space)
const LX0 = 444, LX1 = 517, LXC = 480, LTX = 532;
const rowA = [56, 100, 143];
const shapes = [
  {type: 'line', xref: 'paper', yref: 'paper', x0: fx(LX0), x1: fx(LX1), y0: fy(rowA[0]), y1: fy(rowA[0]),
   line: {color: 'black', width: 3.5, dash: '2px,8px'}},
  {type: 'rect', xref: 'paper', yref: 'paper', x0: fx(LXC - 7.5), x1: fx(LXC + 7.5), y0: fy(rowA[0] + 7.5), y1: fy(rowA[0] - 7.5),
   line: {color: 'black', width: 4}, fillcolor: 'rgba(0,0,0,0)'},
  {type: 'line', xref: 'paper', yref: 'paper', x0: fx(LX0), x1: fx(LX1), y0: fy(rowA[1]), y1: fy(rowA[1]),
   line: {color: '#a0a0a0', width: 4.5}},
  {type: 'circle', xref: 'paper', yref: 'paper', x0: fx(LXC - 8.5), x1: fx(LXC + 8.5), y0: fy(rowA[1] + 8.5), y1: fy(rowA[1] - 8.5),
   line: {color: '#a0a0a0', width: 0}, fillcolor: '#a0a0a0'},
  {type: 'line', xref: 'paper', yref: 'paper', x0: fx(LX0), x1: fx(LX1), y0: fy(rowA[2]), y1: fy(rowA[2]),
   line: {color: 'black', width: 5}},
  {type: 'path', xref: 'paper', yref: 'paper',
   path: `M ${fx(LXC)},${fy(rowA[2] - 12)} L ${fx(LXC + 10)},${fy(rowA[2])} L ${fx(LXC)},${fy(rowA[2] + 12)} L ${fx(LXC - 10)},${fy(rowA[2])} Z`,
   line: {color: 'black', width: 0}, fillcolor: 'black'},
  // panel B legend swatches
  {type: 'rect', xref: 'paper', yref: 'paper', x0: fx(397), x1: fx(474), y0: fy(675), y1: fy(647),
   line: {color: '#222', width: 1}, fillcolor: '#999999'},
  {type: 'rect', xref: 'paper', yref: 'paper', x0: fx(397), x1: fx(474), y0: fy(713), y1: fy(685),
   line: {color: 'black', width: 1}, fillcolor: 'black'}
];

function label(text, px, py, size, anchor) {
  return {text: text, x: fx(px), y: fy(py), xref: 'paper', yref: 'paper', showarrow: false,
          xanchor: anchor || 'left', yanchor: 'middle', font: {family: FONT, size: size, color: 'black'}};
}

const layout = {
  width: W, height: H,
  margin: {l: 0, r: 0, t: 0, b: 0},
  paper_bgcolor: 'white', plot_bgcolor: 'white',
  font: {family: FONT, color: 'black', size: TICK},
  showlegend: false,
  barmode: 'group', bargap: 0.49, bargroupgap: 0.14,

  xaxis: axis({domain: [fx(160), fx(770)], anchor: 'y', range: [5, 25],
    tickvals: [5, 10, 15, 20, 25], ticklabelstandoff: -2,
    title: {text: 'Number of trials', font: {family: FONT, size: TITLE}, standoff: 11}}),
  yaxis: axis({domain: [fy(510), fy(20)], anchor: 'x', range: [0, 0.08], dtick: 0.01,
    ticklabelstandoff: 6,
    title: {text: 'Variance of the estimate', font: {family: FONT, size: TITLE}, standoff: 8}}),

  xaxis2: axis({domain: [fx(151), fx(776)], anchor: 'y2', range: [0, 1], dtick: 0.2,
    ticklabelstandoff: -2,
    title: {text: 'Mean estimate', font: {family: FONT, size: TITLE}, standoff: 11}}),
  yaxis2: axis({domain: [fy(1123), fy(628)], anchor: 'x2', range: [0, 0.25], dtick: 0.05,
    ticklabelstandoff: 6,
    title: {text: 'Frequency', font: {family: FONT, size: TITLE}, standoff: 10}}),

  xaxis3: axis({domain: [fx(126), fx(796)], anchor: 'y3', range: [0, 1], dtick: 0.1,
    ticklabelstandoff: -2,
    title: {text: 'Mean of the estimator', font: {family: FONT, size: TITLE}, standoff: 10}}),
  yaxis3: axis({domain: [fy(1759), fy(1243)], anchor: 'x3', range: [0, 0.04], dtick: 0.005,
    ticklabelstandoff: 6,
    title: {text: 'Variance of the estimator', font: {family: FONT, size: TITLE}, standoff: 4}}),

  shapes: shapes,
  annotations: [
    label(legendA[0], LTX, rowA[0], TITLE),
    label(legendA[1], LTX, rowA[1], TITLE),
    label(legendA[2], LTX + 9, rowA[2], TITLE),
    label(legendB[0], 480, 661, TITLE),
    label(legendB[1], 480, 699, TITLE),
    label('<b>A</b>', 22, 26, 31, 'center'),
    label('<b>B</b>', 16, 630, 31, 'center'),
    label('<b>C</b>', 12, 1245, 31, 'center')
  ]
};

Plotly.newPlot('chart', traces, layout, {displayModeBar: false, staticPlot: true});
</script>
</body></html>
